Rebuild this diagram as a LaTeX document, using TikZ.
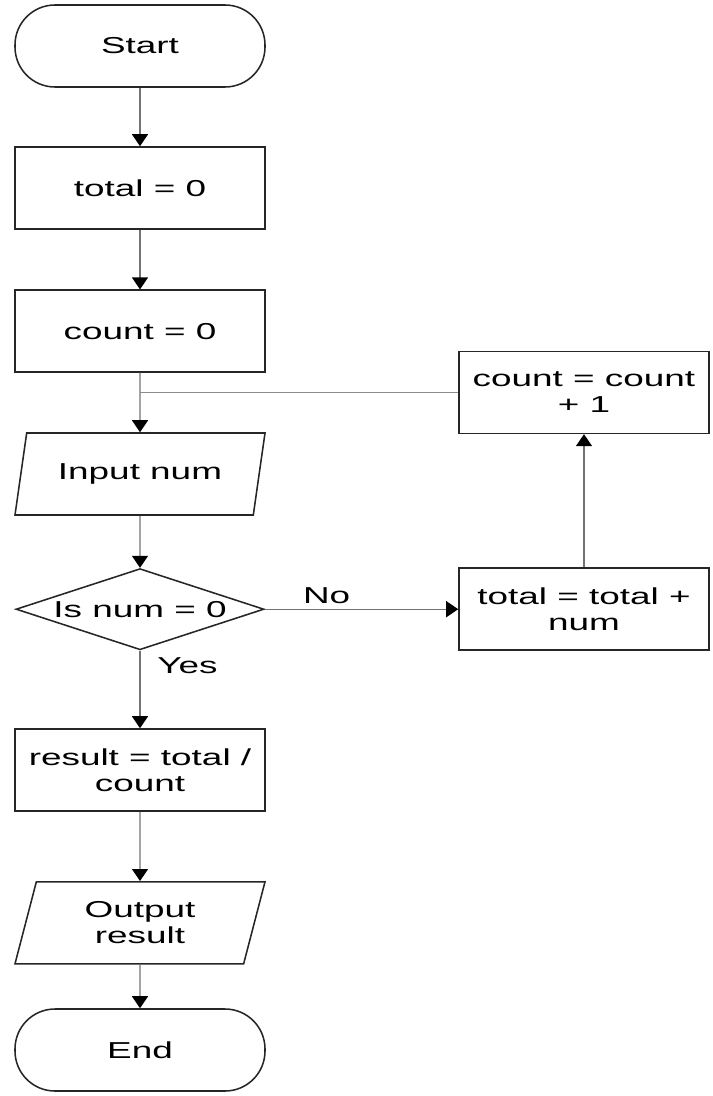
\documentclass[tikz,border=0pt]{standalone}
\usepackage{fontspec}
\setmainfont{Liberation Sans}[FakeStretch=1.6]
\usetikzlibrary{shapes.geometric,arrows.meta}

\begin{document}
\begin{tikzpicture}[
    font=\fontsize{16.4}{18.5}\selectfont,
    box/.style={draw=black!85, line width=1.1pt, minimum width=6.25cm, minimum height=2.05cm, align=center, inner sep=2pt},
    term/.style={box, rounded corners=1cm},
    io/.style={box, trapezium, trapezium left angle=66, trapezium right angle=114, trapezium stretches body},
    test/.style={box, diamond, aspect=3.06, minimum width=6.2cm, minimum height=2.03cm, inner sep=0pt},
    flow/.style={draw=black!55, line width=0.9pt, -{Triangle[length=0.3cm, width=0.4cm, black]}},
    link/.style={draw=black!45, line width=0.9pt}
  ]
  \useasboundingbox (0,0) rectangle (17.8,-27.4);

  % main column
  \node[term] (start) at (3.5,-1.15) {Start};
  \node[box] (total) at (3.5,-4.7) {total = 0};
  \node[box] (count) at (3.5,-8.28) {count = 0};
  \node[io] (input) at (3.5,-11.85) {Input num};
  \node[test] (check) at (3.5,-15.23) {Is num = 0};
  \node[box] (result) at (3.5,-19.25) {result = total /\\count};
  \node[io] (output) at (3.5,-23.07) {Output\\result};
  \node[term] (stop) at (3.5,-26.25) {End};

  % loop body on the right
  \node[box] (add) at (14.6,-15.23) {total = total +\\num};
  \node[box] (inc) at (14.6,-9.81) {count = count\\+ 1};
  \coordinate (join) at (count |- inc.west);

  \draw[flow] (start) -- (total);
  \draw[flow] (total) -- (count);
  \draw[flow] (count) -- (input);
  \draw[flow] (input) -- (check);
  \draw[flow] (check) -- node[right, pos=0.2, xshift=0.3cm] {Yes} (result);
  \draw[flow] (result) -- (output);
  \draw[flow] (output) -- (stop);
  \draw[flow] (check.east) -- node[above, pos=0.32] {No} (add.west);
  \draw[flow] (add) -- (inc);
  \draw[link] (inc.west) -- (join);
\end{tikzpicture}
\end{document}
